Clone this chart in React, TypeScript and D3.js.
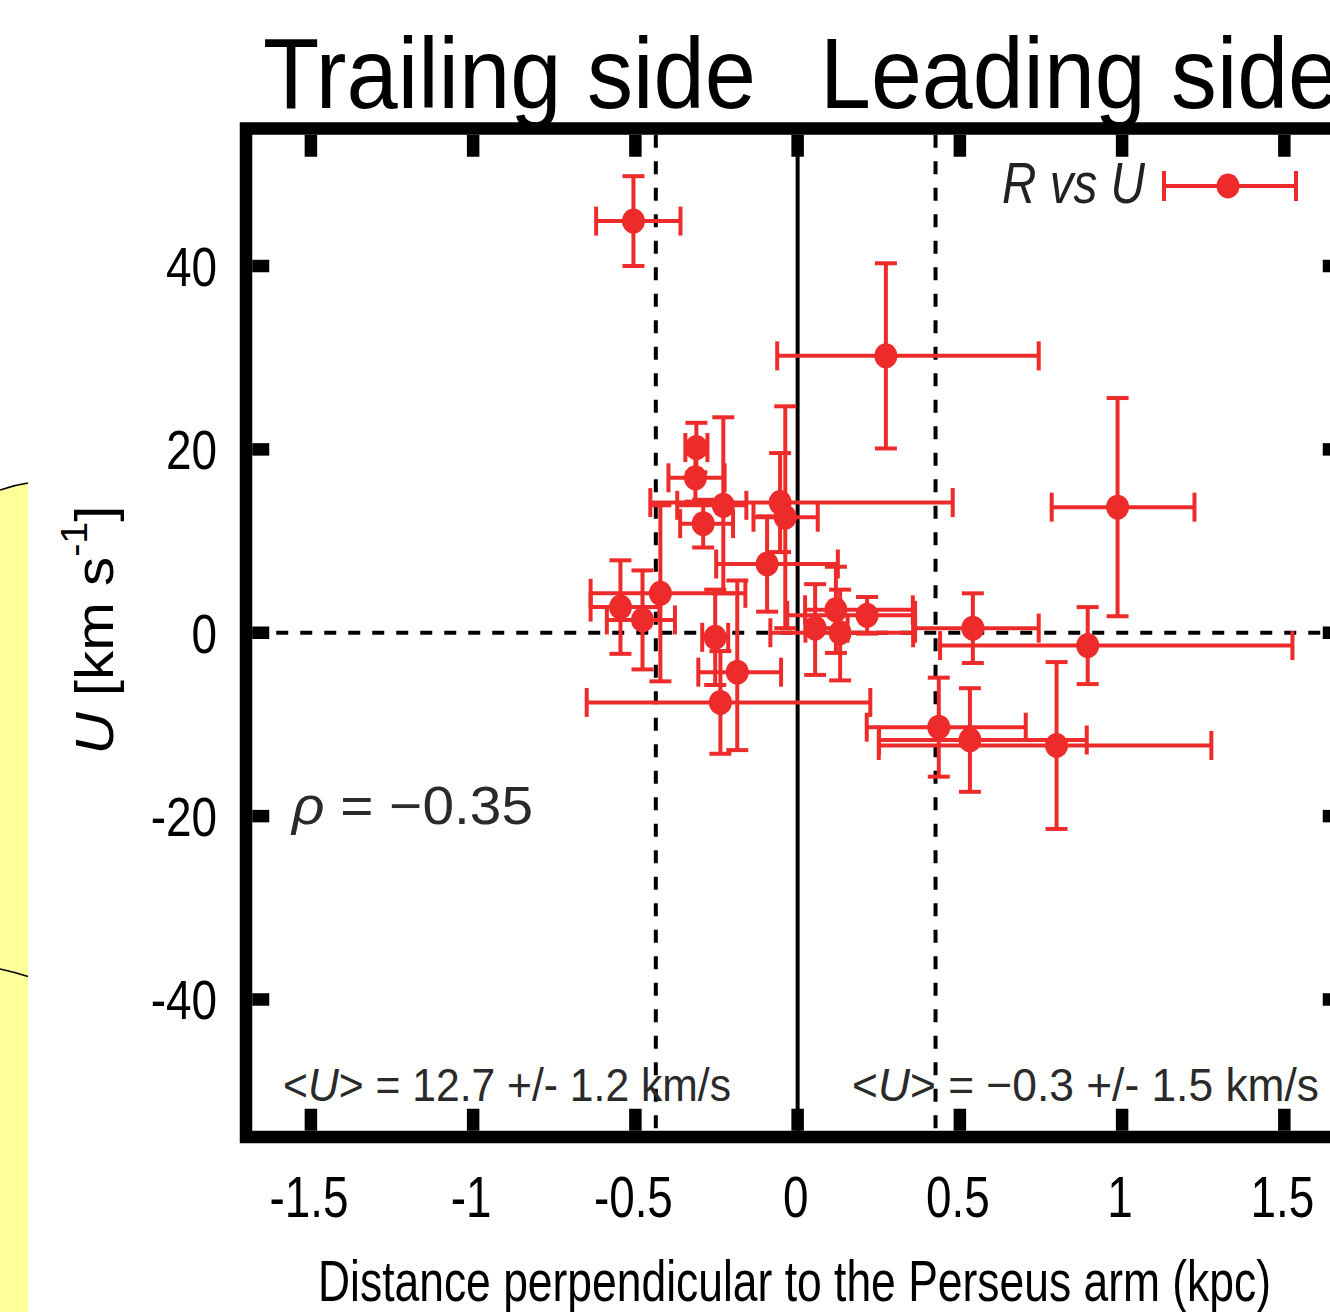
import React from 'react';
import * as d3 from 'd3';

// distance perpendicular to the Perseus arm (kpc) vs U (km/s), errors are asymmetric
const distKpc = [-0.506, 0.272, 0.986, 0.540, 0.894, 0.435, 0.531, 0.798, -0.312, -0.315, -0.291, -0.229, -0.054, -0.038, -0.094, -0.546, -0.478, -0.423, -0.254, -0.186, -0.238, 0.054, 0.118, 0.131, 0.214];
const velU = [44.9, 30.2, 13.7, 0.5, -1.4, -10.3, -11.7, -12.3, 20.2, 16.9, 11.9, 13.9, 14.2, 12.6, 7.5, 2.8, 1.4, 4.3, -0.5, -4.3, -7.6, 0.5, 2.5, 0.0, 1.9];
const distErrLo = [0.115, 0.335, 0.203, 0.178, 0.455, 0.222, 0.28, 0.548, 0.034, 0.083, 0.071, 0.142, 0.40, 0.098, 0.157, 0.092, 0.11, 0.215, 0.04, 0.12, 0.412, 0.03, 0.095, 0.215, 0.246];
const distErrHi = [0.145, 0.471, 0.237, 0.203, 0.631, 0.268, 0.36, 0.477, 0.034, 0.09, 0.092, 0.071, 0.532, 0.10, 0.218, 0.12, 0.10, 0.262, 0.04, 0.135, 0.462, 0.10, 0.237, 0.225, 0.148];
const velErrLo = [4.9, 10.1, 11.9, 3.8, 4.2, 5.4, 5.65, 9.1, 2.7, 2.6, 2.6, 9.6, 5.4, 12.1, 5.2, 5.1, 5.4, 9.6, 5.2, 8.5, 5.6, 5.1, 4.7, 5.2, 2.0];
const velErrHi = [4.9, 10.1, 11.9, 3.8, 4.2, 5.4, 5.65, 9.1, 2.7, 2.6, 2.6, 9.6, 5.4, 12.1, 5.2, 5.1, 5.4, 9.6, 5.2, 10.0, 5.6, 4.8, 4.7, 4.7, 2.0];

const xTicks = [-1.5, -1, -0.5, 0, 0.5, 1, 1.5];
const xTickLabels = ['-1.5', '-1', '-0.5', '0', '0.5', '1', '1.5'];
const yTicks = [-40, -20, 0, 20, 40];
const yTickLabels = ['-40', '-20', '0', '20', '40'];
const armEdges = [-0.437, 0.425];

const RED = '#ee2b2b';
const FONT = '"Liberation Sans", Arial, sans-serif';

export default function App() {
    const x = d3.scaleLinear().domain([-1.7, 1.69]).range([246, 1346]);
    const y = d3.scaleLinear().domain([-55, 55]).range([1137, 128.5]);
    const border = 12.5;
    const inL = x(-1.7) + border / 2;
    const inR = x(1.69) - border / 2;
    const inT = y(55) + border / 2;
    const inB = y(-55) - border / 2;

    const points = distKpc.map((d, i) => ({
        x: d, u: velU[i],
        xl: d - distErrLo[i], xh: d + distErrHi[i],
        ul: velU[i] - velErrLo[i], uh: velU[i] + velErrHi[i],
    }));

    const capX = 14.5; // half height of the caps on horizontal bars
    const capY = 11;   // half width of the caps on vertical bars

    return (
        <div style={{ position: 'absolute', left: 0, top: 0 }}>
            <svg width={1330} height={1312} style={{ display: 'block', background: '#fff' }}>
                {/* yellow shape peeking in at the left */}
                <path d="M0,490 Q14,485 28,483 L28,1312 L0,1312 Z" fill="#ffff99" />
                <path d="M0,490 Q14,485 28,483" fill="none" stroke="#000" strokeWidth={1.6} />
                <path d="M0,969 Q14,972 28,976.5" fill="none" stroke="#000" strokeWidth={1.6} />

                {/* reference lines */}
                <line x1={inL} x2={inR} y1={y(0)} y2={y(0)} stroke="#000" strokeWidth={4} strokeDasharray="12,12" />
                <line x1={x(0)} x2={x(0)} y1={inT} y2={inB} stroke="#000" strokeWidth={4} />
                {armEdges.map(v => (
                    <line key={v} x1={x(v)} x2={x(v)} y1={inT} y2={inB} stroke="#000" strokeWidth={4} strokeDasharray="13,13.5" />
                ))}

                {/* error bars and points */}
                <g stroke={RED} strokeWidth={4} fill="none">
                    {points.map((p, i) => (
                        <g key={i}>
                            <line x1={x(p.xl)} x2={x(p.xh)} y1={y(p.u)} y2={y(p.u)} />
                            <line x1={x(p.xl)} x2={x(p.xl)} y1={y(p.u) - capX} y2={y(p.u) + capX} />
                            <line x1={x(p.xh)} x2={x(p.xh)} y1={y(p.u) - capX} y2={y(p.u) + capX} />
                            <line x1={x(p.x)} x2={x(p.x)} y1={y(p.uh)} y2={y(p.ul)} />
                            <line x1={x(p.x) - capY} x2={x(p.x) + capY} y1={y(p.uh)} y2={y(p.uh)} />
                            <line x1={x(p.x) - capY} x2={x(p.x) + capY} y1={y(p.ul)} y2={y(p.ul)} />
                        </g>
                    ))}
                </g>
                <g fill={RED}>
                    {points.map((p, i) => (
                        <ellipse key={i} cx={x(p.x)} cy={y(p.u)} rx={11.5} ry={12.5} />
                    ))}
                </g>

                {/* frame and ticks on all four sides */}
                <rect x={x(-1.7)} y={y(55)} width={x(1.69) - x(-1.7)} height={y(-55) - y(55)}
                    fill="none" stroke="#000" strokeWidth={border} />
                <g stroke="#000" strokeWidth={12.5}>
                    {xTicks.map(v => (
                        <g key={v}>
                            <line x1={x(v)} x2={x(v)} y1={inB} y2={inB - 22} />
                            <line x1={x(v)} x2={x(v)} y1={inT} y2={inT + 22} />
                        </g>
                    ))}
                    {yTicks.map(v => (
                        <g key={v}>
                            <line x1={inL} x2={inL + 17} y1={y(v)} y2={y(v)} />
                            <line x1={inR} x2={inR - 17} y1={y(v)} y2={y(v)} />
                        </g>
                    ))}
                </g>

                {/* tick labels */}
                <g fontFamily={FONT} fill="#000">
                    {xTicks.map((v, i) => (
                        <text key={v} transform={`translate(${x(v) - 2},1217) scale(0.79,1)`} textAnchor="middle" fontSize={58}>
                            {xTickLabels[i]}
                        </text>
                    ))}
                    {yTicks.map((v, i) => (
                        <text key={v} transform={`translate(217,${y(v) + 20}) scale(0.82,1)`} textAnchor="end" fontSize={56}>
                            {yTickLabels[i]}
                        </text>
                    ))}
                </g>

                {/* axis titles */}
                <text x={318} y={1301} fontFamily={FONT} fontSize={57} textLength={953} lengthAdjust="spacingAndGlyphs">
                    Distance perpendicular to the Perseus arm (kpc)
                </text>
                <text transform="translate(113,630) rotate(-90) scale(1,0.86)" textAnchor="middle" fontFamily={FONT}
                    fontSize={62} textLength={249} lengthAdjust="spacingAndGlyphs">
                    <tspan fontStyle="italic">U</tspan> [km s<tspan fontSize={42} dy={-30}>-1</tspan><tspan dy={30}>]</tspan>
                </text>

                {/* headline */}
                <text x={263} y={108} fontFamily={FONT} fontSize={100} textLength={493} lengthAdjust="spacingAndGlyphs">Trailing side</text>
                <text x={820} y={108} fontFamily={FONT} fontSize={100} textLength={519} lengthAdjust="spacingAndGlyphs">Leading side</text>

                {/* annotations */}
                <g fontFamily={FONT} fill="#2a2a2a">
                    <text x={292} y={824} fontSize={53} textLength={241} lengthAdjust="spacingAndGlyphs">
                        <tspan fontStyle="italic">ρ</tspan> = −0.35
                    </text>
                    <text x={283} y={1101} fontSize={47} textLength={448} lengthAdjust="spacingAndGlyphs">
                        &lt;<tspan fontStyle="italic">U</tspan>&gt; = 12.7 +/- 1.2 km/s
                    </text>
                    <text x={852} y={1101} fontSize={47} textLength={467} lengthAdjust="spacingAndGlyphs">
                        &lt;<tspan fontStyle="italic">U</tspan>&gt; = −0.3 +/- 1.5 km/s
                    </text>
                </g>

                {/* legend */}
                <text x={1002} y={203} fontFamily={FONT} fontSize={57} fontStyle="italic" fill="#222"
                    textLength={143} lengthAdjust="spacingAndGlyphs">R vs U</text>
                <g stroke={RED} strokeWidth={4}>
                    <line x1={1164} x2={1296} y1={186} y2={186} />
                    <line x1={1164} x2={1164} y1={171} y2={201} />
                    <line x1={1296} x2={1296} y1={171} y2={201} />
                </g>
                <ellipse cx={1228} cy={186} rx={11.5} ry={12.5} fill={RED} />
            </svg>
        </div>
    );
}
